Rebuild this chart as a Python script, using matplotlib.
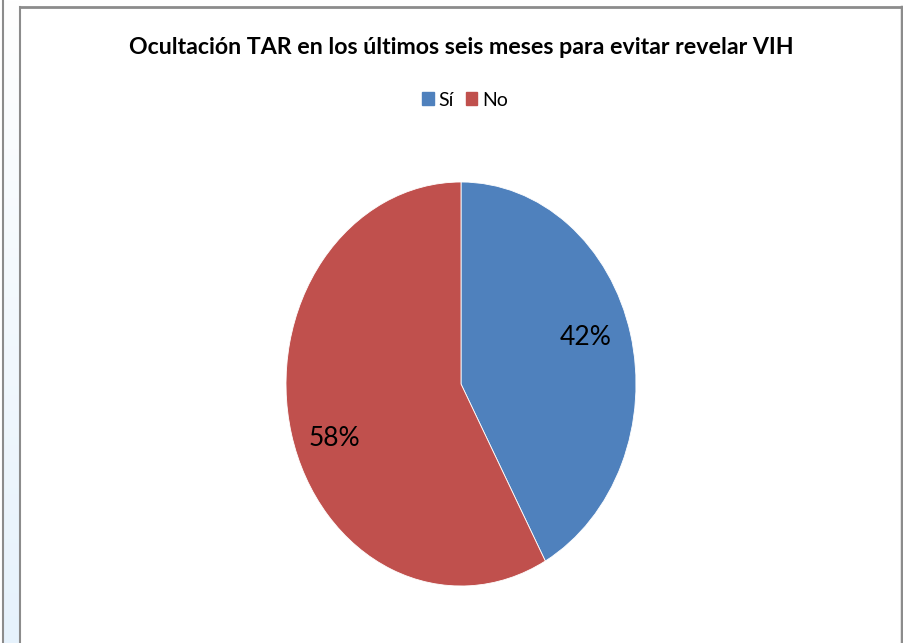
import numpy as np
import matplotlib
matplotlib.use("Agg")
from matplotlib import pyplot as plt
from matplotlib.patches import Patch
from matplotlib.lines import Line2D

plt.rcParams['font.family'] = ['Lato', 'DejaVu Sans']

# data
labels = ["Sí", "No"]
values = [42, 58]
colors = ["#4F81BD", "#C0504D"]
title = "Ocultación TAR en los últimos seis meses para evitar revelar VIH"

W, H = 904, 643
fig = plt.figure(figsize=(W/100, H/100), dpi=100)
fig.patch.set_facecolor("white")

def fx(px):
    return px / W

def fy(py):
    return 1 - py / H

# light blue strip on the left (gradient)
strip = fig.add_axes([fx(4), 0, fx(20) - fx(4), 1])
grad = np.linspace(0, 1, 256).reshape(-1, 1)
cmap = matplotlib.colors.LinearSegmentedColormap.from_list("g", ["#FFFFFF", "#E6F2FC"])
strip.imshow(grad, aspect="auto", cmap=cmap, extent=[0, 1, 1, 0])
strip.set_axis_off()

# frame lines
fig.add_artist(Line2D([fx(3.5), fx(3.5)], [0, 1], color="#8C8C8C", lw=1.5))
fig.add_artist(Line2D([fx(20.5), fx(20.5)], [0, fy(6.5)], color="#8C8C8C", lw=1.5))
fig.add_artist(Line2D([fx(20.5), fx(902.5)], [fy(6.5), fy(6.5)], color="#8C8C8C", lw=2))
fig.add_artist(Line2D([fx(902.5), fx(902.5)], [0, fy(6.5)], color="#8C8C8C", lw=2.5))

# pie (stretched into an ellipse like the original)
cx, cy, rx, ry = 461, 384, 175, 202
ax = fig.add_axes([fx(cx - rx), fy(cy + ry), 2*rx/W, 2*ry/H])
wedges, texts, autotexts = ax.pie(values, colors=colors, startangle=90, counterclock=False,
                                  autopct="%1.0f%%", pctdistance=0.74,
                                  wedgeprops=dict(edgecolor="white", linewidth=0.6),
                                  textprops=dict(fontsize=19, color="black"))
# label spots as in the original (stretched pie)
autotexts[0].set_position((0.71, 0.23))
autotexts[1].set_position((-0.725, -0.27))
ax.set_aspect("auto")
ax.set_xlim(-1, 1)
ax.set_ylim(-1, 1)

fig.text(fx(461), fy(47), title, ha="center", va="center", fontsize=16.7, fontweight="bold")

handles = [Patch(facecolor=c, edgecolor=c) for c in colors]
fig.legend(handles, labels, loc="center", bbox_to_anchor=(fx(465), fy(100)), ncol=2,
           frameon=False, fontsize=14, handlelength=0.6, handleheight=0.6,
           handletextpad=0.25, columnspacing=0.6)

fig.savefig("out.png", dpi=100)
